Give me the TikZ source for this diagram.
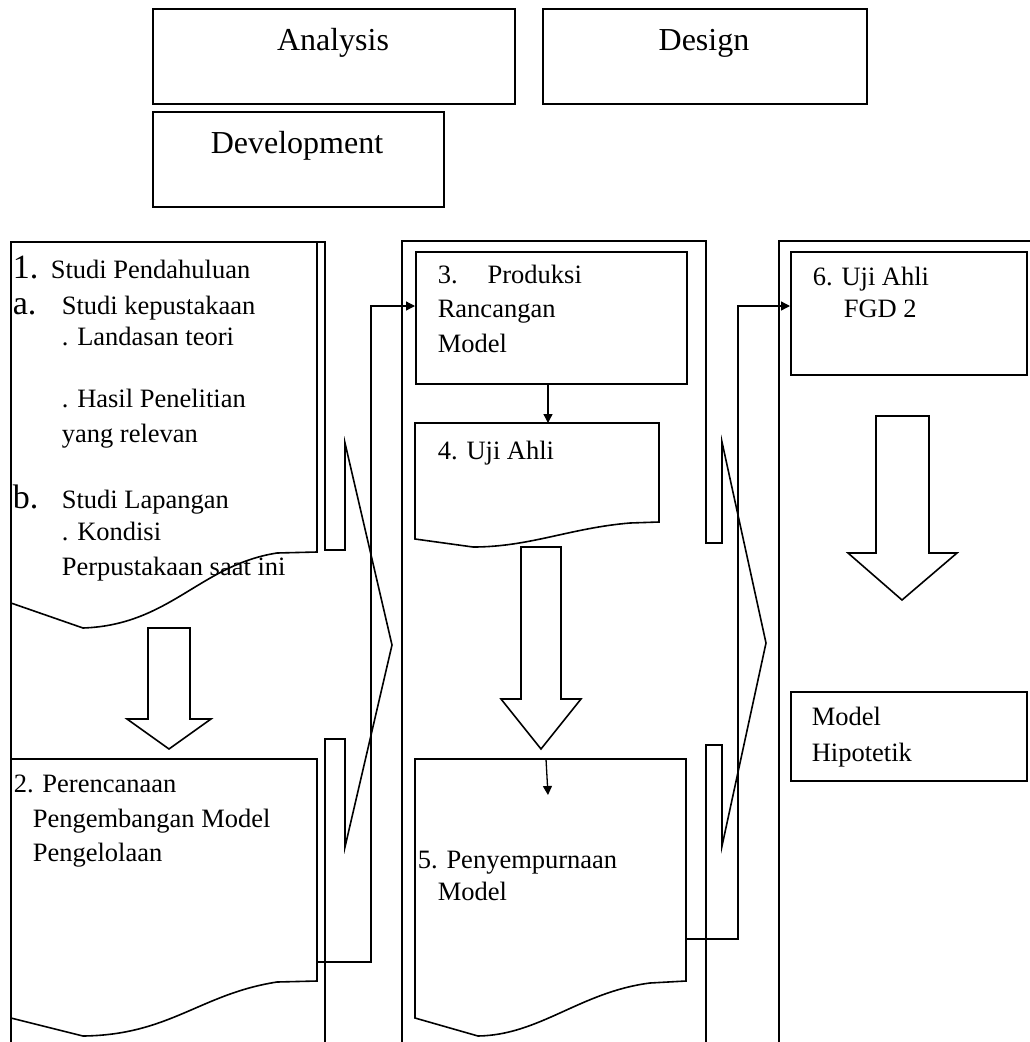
\documentclass[tikz,border=0pt]{standalone}
\usepackage{fontspec}
\setmainfont{Liberation Serif}
\usetikzlibrary{arrows.meta}

\begin{document}
\begin{tikzpicture}[x=1pt, y=-1pt, line width=1.6pt, line join=miter,
  txt/.style={anchor=base west, inner sep=0pt, font=\fontsize{26.5}{31}\selectfont},
  num/.style={anchor=base west, inner sep=0pt, font=\fontsize{34}{38}\selectfont},
  toptxt/.style={anchor=base, inner sep=0pt, font=\fontsize{32}{36}\selectfont},
  plainbox/.style={draw, rectangle, inner sep=0pt, anchor=north west},
  conn/.style={line width=1.3pt, -{Triangle[length=9pt,width=9pt]}},
  blockarrow/.style={line width=1.6pt, fill=white}]
\useasboundingbox (0,0) rectangle (1030,1042);

\node[plainbox, minimum width=362pt, minimum height=95pt] (analysisbox) at (152,8) {};
\node[toptxt] (analysis) at (333,50) {Analysis};
\node[plainbox, minimum width=324pt, minimum height=95pt] (designbox) at (542,8) {};
\node[toptxt] (design) at (704,50) {Design};
\node[plainbox, minimum width=291pt, minimum height=95pt] (developbox) at (152,111) {};
\node[toptxt] (develop) at (297,153) {Development};

\draw (11,1042) -- (11,242) -- (325,242) -- (325,550) -- (345,550) -- (345,443) -- (392,645) -- (345,847) -- (345,739) -- (325,739) -- (325,1042);
\draw (402,1042) -- (402,241) -- (706,241) -- (706,543) -- (722,543) -- (722,442) -- (766,643) -- (722,846) -- (722,745) -- (706,745) -- (706,1042);
\draw (779,1042) -- (779,241) -- (1030,241);

\draw (317,242) -- (317,552) -- (277,553) .. controls (200,565) and (170,625) .. (83,628) -- (11,603);
\draw (11,759) -- (317,759) -- (317,981) -- (277,982) .. controls (200,994) and (170,1035) .. (83,1036) -- (11,1018);
\draw[blockarrow] (148,628) -- (190,628) -- (190,719) -- (211,719) -- (169,749) -- (127,719) -- (148,719) -- cycle;

\node[plainbox, minimum width=271pt, minimum height=132pt] (box3) at (415,251) {};
\draw (415,423) -- (659,423) -- (659,522) -- (630,523) .. controls (570,528) and (530,547) .. (473,547) -- (415,539) -- cycle;
\coordinate (doc4top) at (548,423);
\draw[blockarrow] (521,547) -- (561,547) -- (561,699) -- (581,699) -- (541,749) -- (501,699) -- (521,699) -- cycle;
\draw (415,759) -- (686,759) -- (686,981) -- (650,983) .. controls (580,992) and (540,1035) .. (478,1036) -- (415,1018) -- cycle;
\coordinate (doc5top) at (546,759);
\coordinate (doc5in) at (548,795);

\node[plainbox, minimum width=236pt, minimum height=123pt] (box6) at (790,251) {};
\draw[blockarrow] (876,416) -- (929,416) -- (929,553) -- (957,553) -- (902,600) -- (848,553) -- (876,553) -- cycle;
\node[plainbox, minimum width=236pt, minimum height=89pt] (hipobox) at (790,691) {};

\coordinate (doc2out) at (317,962);
\coordinate (doc5out) at (686,939);
\draw[conn] (doc2out) -- ++(54,0) |- (box3.west |- 0,306);
\draw[conn] (doc5out) -- ++(52,0) |- (box6.west |- 0,306);
\draw[conn] (box3.south -| doc4top) -- (doc4top);
\draw[conn] (doc5top) -- (doc5in);

\node[num] (n1) at (12,278) {1.};
\node[txt] (studi) at (50,278) {Studi Pendahuluan};
\node[num] (na) at (12,314) {a.};
\node[txt] (pustaka) at (61,314) {Studi kepustakaan};
\node[txt] (landasan) at (61,345) {. Landasan teori};
\node[txt] (hasil) at (61,407) {. Hasil Penelitian};
\node[txt] (relevan) at (61,442) {yang relevan};
\node[num] (nb) at (12,508) {b.};
\node[txt] (lapangan) at (61,508) {Studi Lapangan};
\node[txt] (kondisi) at (61,540) {. Kondisi};
\node[txt] (kini) at (61,575) {Perpustakaan saat ini};

\node[txt] (rencana) at (13,792) {2. Perencanaan};
\node[txt] (kembang) at (32,827) {Pengembangan Model};
\node[txt] (kelola) at (32,861) {Pengelolaan};

\node[txt] (produksi) at (437,283) {3.\hspace{30pt}Produksi};
\node[txt] (rancangan) at (437,317) {Rancangan};
\node[txt] (model3) at (437,352) {Model};
\node[txt] (uji4) at (437,459) {4. Uji Ahli};
\node[txt] (sempurna) at (417,868) {5. Penyempurnaan};
\node[txt] (model5) at (437,900) {Model};

\node[txt] (uji6) at (812,285) {6. Uji Ahli};
\node[txt] (fgd) at (843,317) {FGD 2};
\node[txt] (modelh) at (811,725) {Model};
\node[txt] (hipotetik) at (811,761) {Hipotetik};
\end{tikzpicture}
\end{document}
